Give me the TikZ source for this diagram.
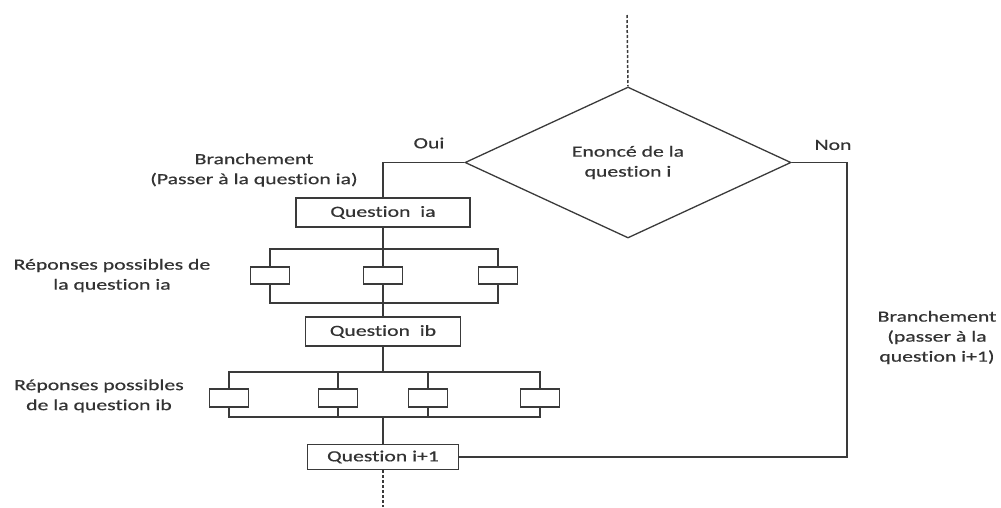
\documentclass[tikz,border=0pt]{standalone}
\usepackage{fontspec}
\setmainfont{Carlito}[FakeStretch=1.4, FakeBold=0.6, Ligatures=CommonOff]
\usepackage{tikz}
\usetikzlibrary{shapes.geometric, positioning, calc}

\definecolor{linegray}{HTML}{3A3A3A}
\definecolor{txtgray}{HTML}{333333}

\begin{document}
\begin{tikzpicture}[
                        x=1pt, y=-1pt,
                        line width=1.5pt,
                        color=linegray,
                        every node/.style={font=\fontsize{15.5}{20}\selectfont, text=txtgray},
                        quest/.style={rectangle, draw, minimum height=29pt, inner sep=0pt},
                        rep/.style={rectangle, draw, minimum width=39pt, minimum height=17pt, inner sep=0pt},
                        dec/.style={diamond, draw, line width=1.3pt, minimum width=326pt, minimum height=151pt, inner sep=0pt, align=center},
                        lbl/.style={align=center, inner sep=0pt},
                        dots/.style={dash pattern=on 3pt off 2pt}
                ]
                \useasboundingbox (0,0) rectangle (1001,507);

                % question i
                \coordinate (start) at (627,15);
                \node [dec] (dec) at (628,162.5) {Enoncé de la\\question i};
                \node [lbl] (oui) at (429,143) {Oui};
                \node [lbl] (non) at (833,145) {Non};

                % questions ia, ib, i+1
                \node [quest, minimum width=174pt] (qia) at (383,212.5) {Question~ ia};
                \node [quest, minimum width=155pt] (qib) at (383,331.5) {Question~ ib};
                \node [quest, minimum width=151pt, minimum height=25pt] (qn) at (383,457) {Question i+1};
                \coordinate (end) at (383,507);
                \coordinate (cn) at (847,300);

                % reponses ia
                \node [rep] (ra1) at (270,275.5) {};
                \node [rep] (ra2) at (383,275.5) {};
                \node [rep] (ra3) at (498,275.5) {};
                \coordinate (ta) at (383,249);
                \coordinate (ba) at (383,303);

                % reponses ib
                \node [rep, minimum height=18pt] (rb1) at (229,398) {};
                \node [rep, minimum height=18pt] (rb2) at (338,398) {};
                \node [rep, minimum height=18pt] (rb3) at (428,398) {};
                \node [rep, minimum height=18pt] (rb4) at (540,398) {};
                \coordinate (tb) at (383,372);
                \coordinate (bb) at (383,417);

                % labels
                \node [lbl] (bra) at (254,170) {Branchement\\(Passer à la question ia)};
                \node [lbl] (lra) at (112,275.5) {Réponses possibles de\\la question ia};
                \node [lbl] (lrb) at (99,396) {Réponses possibles\\de la question ib};
                \node [lbl] (brn) at (937,337.5) {Branchement\\(passer à la\\question i+1)};

                % connectors
                \draw [dots] (start) -- (dec.north);
                \draw (dec.west) -| (qia.north);
                \draw (dec.east) -| (cn) |- (qn.east);
                \draw (qia) -- (ra2) -- (qib);
                \draw (ra1.north) |- (ta) -| (ra3.north);
                \draw (ra1.south) |- (ba) -| (ra3.south);
                \draw (qib) -- (tb);
                \draw (rb1.north) |- (tb) -| (rb4.north);
                \draw (rb2.north) -- (rb2.north |- tb);
                \draw (rb3.north) -- (rb3.north |- tb);
                \draw (rb1.south) |- (bb) -| (rb4.south);
                \draw (rb2.south) -- (rb2.south |- bb);
                \draw (rb3.south) -- (rb3.south |- bb);
                \draw (bb) -- (qn);
                \draw [dots] (qn) -- (end);
\end{tikzpicture}
\end{document}
